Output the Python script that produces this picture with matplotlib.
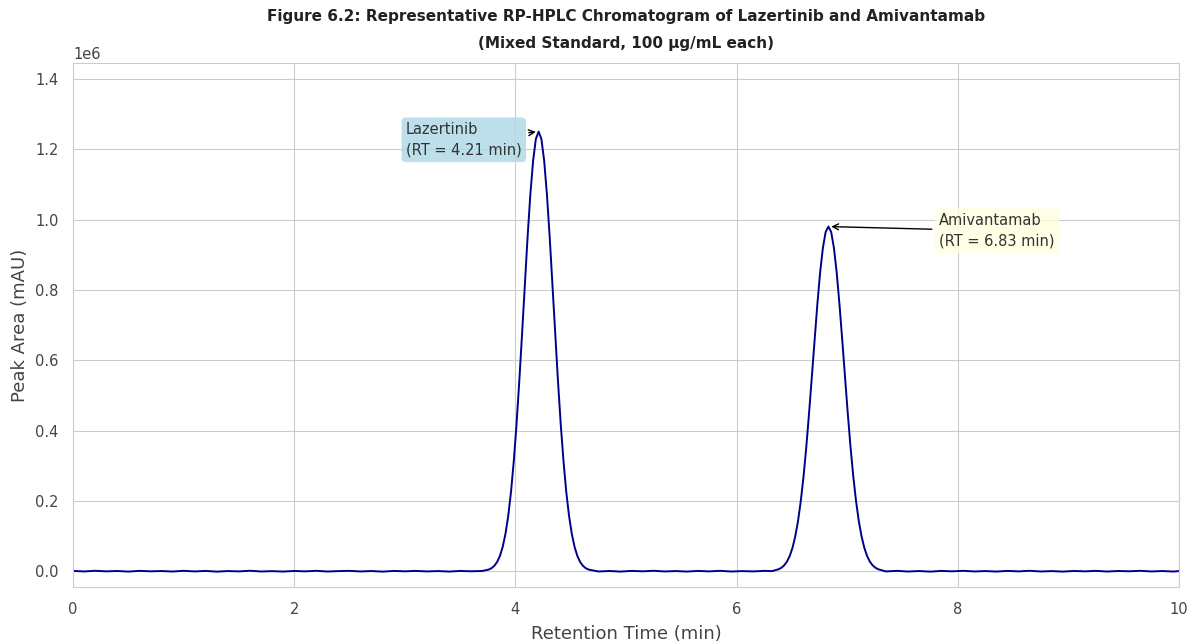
import numpy as np
import matplotlib
matplotlib.use("Agg")
import matplotlib.pyplot as plt
import seaborn as sns

sns.set_style("whitegrid")
plt.rcParams['font.family'] = ['DejaVu Sans']

# Retention time (min) and detector response
baseline_left_t = [0.0, 0.1, 0.2, 0.3, 0.4, 0.5, 0.6, 0.7, 0.8, 0.9, 1.0, 1.1, 1.2, 1.3,
                   1.4, 1.5, 1.6, 1.7, 1.8, 1.9, 2.0, 2.1, 2.2, 2.3, 2.4, 2.5, 2.6, 2.7,
                   2.8, 2.9, 3.0, 3.1, 3.2, 3.3, 3.4, 3.5, 3.6, 3.7]
baseline_left_y = [900, -700, 1200, -400, 600, -1100, 1000, -300, 500, -900, 1100, -600,
                   800, -1200, 400, -500, 1300, -800, 200, -1000, 700, -400, 1100, -900,
                   300, 1000, -700, 500, -1200, 800, -300, 900, -600, 400, -1000, 700,
                   -200, 600]

peak1_t = [3.76, 3.785, 3.81, 3.835, 3.86, 3.885, 3.91, 3.935, 3.96, 3.985,
           4.01, 4.035, 4.06, 4.085, 4.11, 4.135, 4.16, 4.185, 4.21,
           4.235, 4.26, 4.285, 4.31, 4.335, 4.36, 4.385, 4.41, 4.435,
           4.46, 4.485, 4.51, 4.535, 4.56, 4.585, 4.61, 4.635, 4.66]
peak1_y = [4800, 8800, 15500, 26400, 43400, 69000, 106000, 157000, 225000, 312000,
           417000, 540000, 674000, 814000, 950000, 1071000, 1167000, 1229000, 1250000,
           1229000, 1167000, 1071000, 950000, 814000, 674000, 540000, 417000, 312000,
           225000, 157000, 106000, 69000, 43400, 26400, 15500, 8800, 4800]

baseline_mid_t = [4.75, 4.85, 4.95, 5.05, 5.15, 5.25, 5.35, 5.45, 5.55, 5.65, 5.75,
                  5.85, 5.95, 6.05, 6.15, 6.25, 6.32]
baseline_mid_y = [-800, 600, -1100, 900, -300, 1200, -700, 400, -1000, 800, -500,
                  1100, -900, 300, -600, 1000, 200]

peak2_t = [6.38, 6.405, 6.43, 6.455, 6.48, 6.505, 6.53, 6.555, 6.58, 6.605,
           6.63, 6.655, 6.68, 6.705, 6.73, 6.755, 6.78, 6.805, 6.83,
           6.855, 6.88, 6.905, 6.93, 6.955, 6.98, 7.005, 7.03, 7.055,
           7.08, 7.105, 7.13, 7.155, 7.18, 7.205, 7.23, 7.255, 7.28]
peak2_y = [5600, 9800, 16600, 27100, 43000, 66200, 98700, 142000, 199000, 269000,
           353000, 449000, 552000, 658000, 759000, 849000, 919000, 964500, 980000,
           964500, 919000, 849000, 759000, 658000, 552000, 449000, 353000, 269000,
           199000, 142000, 98700, 66200, 43000, 27100, 16600, 9800, 5600]

baseline_right_t = [7.35, 7.45, 7.55, 7.65, 7.75, 7.85, 7.95, 8.05, 8.15, 8.25, 8.35,
                    8.45, 8.55, 8.65, 8.75, 8.85, 8.95, 9.05, 9.15, 9.25, 9.35, 9.45,
                    9.55, 9.65, 9.75, 9.85, 9.95, 10.0]
baseline_right_y = [-600, 1000, -900, 500, -1200, 800, -300, 1100, -700, 400, -1000,
                    900, -500, 1200, -800, 300, -1100, 700, -400, 1000, -900, 600,
                    -200, 1100, -700, 500, -1000, 400]

peak_names = ["Lazertinib", "Amivantamab"]
peak_rt = [4.21, 6.83]
peak_height = [1250000, 980000]

time = np.array(baseline_left_t + peak1_t + baseline_mid_t + peak2_t + baseline_right_t)
signal = np.array(baseline_left_y + peak1_y + baseline_mid_y + peak2_y + baseline_right_y)

fig, ax = plt.subplots(figsize=(11.89, 6.41), dpi=100)
fig.subplots_adjust(left=0.0614, right=0.9916, top=0.9017, bottom=0.0842)

ax.plot(time, signal, color='darkblue', linewidth=1.4)

ax.set_xlim(0, 10)
ax.set_ylim(-45000, 1445000)
ax.set_xlabel("Retention Time (min)", fontsize=13, color='#444444', labelpad=6)
ax.set_ylabel("Peak Area (mAU)", fontsize=13, color='#444444', labelpad=4)
ax.tick_params(labelsize=10.5, colors='#444444', pad=7)
ax.yaxis.get_offset_text().set_fontsize(10.5)
ax.set_title("Figure 6.2: Representative RP-HPLC Chromatogram of Lazertinib and Amivantamab\n"
             "(Mixed Standard, 100 \u00b5g/mL each)", fontsize=11, fontweight='bold',
             color='#222222', pad=11, linespacing=2.0)

# Peak labels
ax.annotate(f"{peak_names[0]}\n(RT = {peak_rt[0]:.2f} min)",
            xy=(peak_rt[0], peak_height[0]), xytext=(peak_rt[0] - 1.2, peak_height[0] - 66000),
            fontsize=10.5, color='#333333', linespacing=1.5,
            bbox=dict(boxstyle='round,pad=0.3', facecolor='lightblue', edgecolor='none', alpha=0.8),
            arrowprops=dict(arrowstyle='->', color='black', lw=1))
ax.annotate(f"{peak_names[1]}\n(RT = {peak_rt[1]:.2f} min)",
            xy=(peak_rt[1], peak_height[1]), xytext=(peak_rt[1] + 1.0, peak_height[1] - 55000),
            fontsize=10.5, color='#333333', linespacing=1.5,
            bbox=dict(boxstyle='round,pad=0.3', facecolor='lightyellow', edgecolor='none', alpha=0.8),
            arrowprops=dict(arrowstyle='->', color='black', lw=1))

fig.savefig("out.png", dpi=100)
